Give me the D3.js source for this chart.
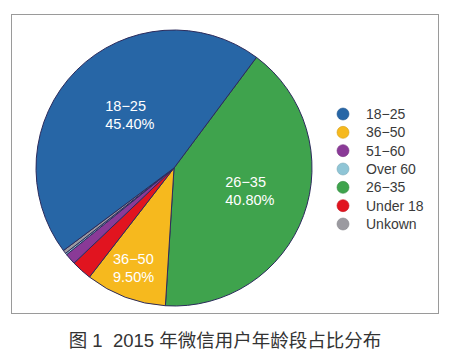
<!DOCTYPE html>
<html><head><meta charset="utf-8">
<script src="https://cdn.jsdelivr.net/npm/d3@7"></script>
<style>body{margin:0;background:#fff}svg{display:block}</style>
</head><body>
<svg id="c" width="450" height="355"></svg>
<script>
// Data
const sliceLabels = ["26-35", "36-50", "Under 18", "51-60", "Over 60", "Unkown", "18-25"];
const sliceValues = [40.8, 9.5, 2.4, 1.3, 0.2, 0.4, 45.4];
const sliceColors = ["#3fa34d", "#f6b91e", "#e1141f", "#8a3a97", "#8fc5d6", "#9b9aa0", "#2766a6"];
const legendLabels = ["18\u221225", "36\u221250", "51\u221260", "Over 60", "26\u221235", "Under 18", "Unkown"];
const legendColors = ["#2766a6", "#f6b91e", "#8a3a97", "#8fc5d6", "#3fa34d", "#e1141f", "#9b9aa0"];
const shownLabels = {"18-25": ["18\u221225", "45.40%"], "26-35": ["26\u221235", "40.80%"], "36-50": ["36\u221250", "9.50%"]};
const caption = "图 1  2015 年微信用户年龄段占比分布";

const svg = d3.select("#c");
const cx = 174, cy = 168, R = 138;

svg.append("rect").attr("x", 11.5).attr("y", 14.5).attr("width", 427).attr("height", 299)
  .attr("fill", "#fff").attr("stroke", "#9a9a9a").attr("stroke-width", 1);

const startDeg = 36.7;
const pie = d3.pie().sort(null).value(d => d.v)
  .startAngle(startDeg * Math.PI / 180).endAngle((startDeg + 360) * Math.PI / 180);
const data = sliceLabels.map((l, i) => ({l, v: sliceValues[i], c: sliceColors[i]}));
const arcs = pie(data);
const arc = d3.arc().innerRadius(0).outerRadius(R);

const g = svg.append("g").attr("transform", `translate(${cx},${cy})`);
g.selectAll("path").data(arcs).join("path")
  .attr("d", arc).attr("fill", d => d.data.c)
  .attr("stroke", "#2c2b5c").attr("stroke-width", 1).attr("stroke-linejoin", "round");

const labelPos = {"18-25": [0.53, -17, -1], "26-35": [0.55, -20, -3], "36-50": [0.78, -23, -1]};
arcs.filter(d => shownLabels[d.data.l]).forEach(d => {
  const [f, dx, dy] = labelPos[d.data.l];
  const la = d3.arc().innerRadius(R * f).outerRadius(R * f);
  const [x, y] = la.centroid(d);
  const t = g.append("text").attr("fill", "#fff")
    .attr("font-family", "Liberation Sans, Arial, sans-serif").attr("font-size", 14.5);
  const lines = shownLabels[d.data.l];
  lines.forEach((s, i) => {
    t.append("tspan").attr("x", x + dx).attr("y", y + dy - 4 + i * 18).text(s);
  });
});

// Legend
const ly = d3.scalePoint().domain(legendLabels).range([114, 224]);
const lg = svg.append("g");
legendLabels.forEach((l, i) => {
  lg.append("circle").attr("cx", 343).attr("cy", ly(l)).attr("r", 6)
    .attr("fill", legendColors[i]).attr("stroke", d3.color(legendColors[i]).darker(0.4)).attr("stroke-width", 0.6);
  lg.append("text").attr("x", 366).attr("y", ly(l) + 5)
    .attr("font-family", "Liberation Sans, Arial, sans-serif").attr("font-size", 14)
    .attr("fill", "#3a3a3a").text(l);
});

svg.append("text").attr("x", 225).attr("y", 347).attr("text-anchor", "middle")
  .style("white-space", "pre").attr("xml:space", "preserve")
  .attr("font-family", "Liberation Sans, 'Noto Sans CJK SC', sans-serif").attr("font-size", 18.5)
  .attr("fill", "#333").text(caption);
</script>
</body></html>
